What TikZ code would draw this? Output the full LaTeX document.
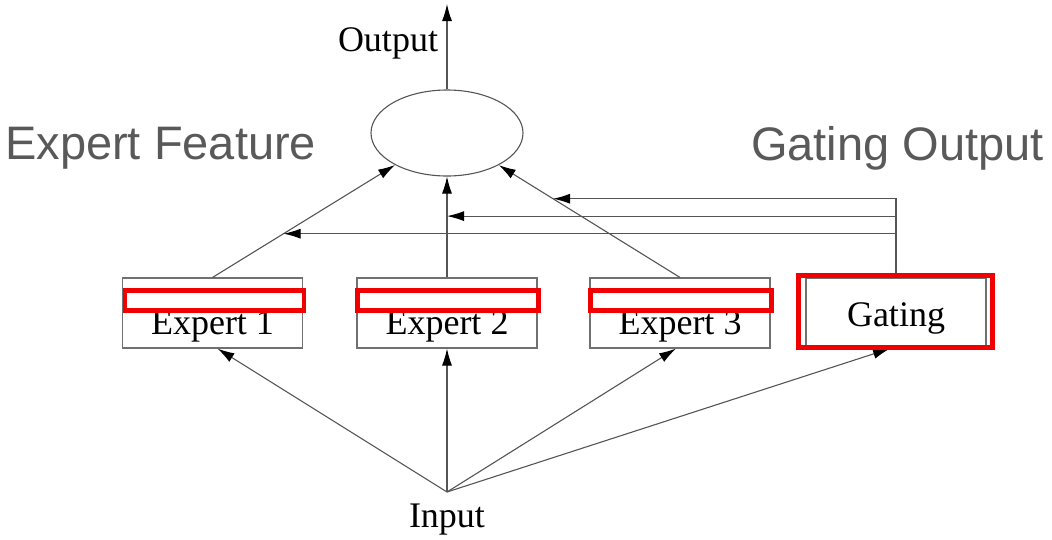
\documentclass[tikz,border=0pt]{standalone}
\usepackage{fontspec}
\setmainfont{Liberation Serif}
\newfontfamily\labelsans{Liberation Sans}
\usetikzlibrary{arrows.meta,calc,shapes.geometric}
\definecolor{wire}{HTML}{555555}
\definecolor{frame}{HTML}{707070}
\definecolor{tag}{HTML}{595959}
\definecolor{mark}{HTML}{F00000}
\tikzset{
  wire/.style={draw=wire,line width=1.1pt},
  arr/.style={wire,-{Latex[length=17pt,width=10pt,color=black]}},
  unit/.style={draw=frame,line width=1.1pt,minimum width=180pt,minimum height=70pt,
    inner sep=0pt,font=\fontsize{36}{40}\selectfont},
  lowtext/.style={text height=42pt,text depth=0pt},
  midtext/.style={text height=27pt,text depth=0pt},
  serif/.style={font=\fontsize{36}{40}\selectfont,inner sep=0pt},
  bigtag/.style={font=\labelsans\fontsize{47}{52}\selectfont,text=tag,inner sep=0pt},
  hl/.style={draw=mark,line width=4.5pt}
}
\begin{document}
\begin{tikzpicture}[x=1pt,y=-1pt]
\useasboundingbox (0,0) rectangle (1052,539);

% combiner and its output
\node[ellipse,draw=wire,line width=1.1pt,minimum width=152pt,minimum height=86pt,inner sep=0pt] (comb) at (447,133) {};
\coordinate (out) at (447,4);
\node[serif] (outlbl) at (388,43) {Output};

% experts and gating network
\node[unit,lowtext] (e1) at (212.5,313) {Expert 1};
\node[unit,lowtext] (e2) at (447,313) {Expert 2};
\node[unit,lowtext] (e3) at (680,313) {Expert 3};
\node[unit,midtext] (gate) at (896,313) {Gating};

% input
\coordinate (in) at (447,492);
\node[serif] (inlbl) at (447,520) {Input};

% side captions
\node[bigtag,anchor=west] (featlbl) at (5,148) {Expert Feature};
\node[bigtag,anchor=east] (gatelbl) at (1044,148) {Gating Output};

% input fan-out
\draw[arr] (in) -- ($(e1.south)+(5,0)$);
\draw[arr] (in) -- (e2.south);
\draw[arr] (in) -- ($(e3.south)+(-4,0)$);
\draw[arr] (in) -- ($(gate.south)+(-6,0)$);

% experts into the combiner
\draw[arr] (e1.north) -- (comb);
\draw[arr] (e2.north) -- (comb.south);
\draw[arr] (e3.north) -- (comb);
\draw[arr] (comb.north) -- (out);

% gating weights onto each expert line
\coordinate (g1) at ($(e1.north)!0.303!(comb.center)$);
\coordinate (g2) at ($(e2.north)!0.608!(comb.south)$);
\coordinate (g3) at ($(e3.north)!0.545!(comb.center)$);
\draw[arr] (gate.north) |- (g1);
\draw[arr] (gate.north) |- (g2);
\draw[arr] (gate.north) |- (g3);

% highlight frames
\draw[hl] ($(e1.north west)+(3,13)$) rectangle ($(e1.north east)+(1,33)$);
\draw[hl] ($(e2.north west)+(1,13)$) rectangle ($(e2.north east)+(1,33)$);
\draw[hl] ($(e3.north west)+(1,13)$) rectangle ($(e3.north east)+(1,33)$);
\draw[hl] ($(gate.north west)+(-7,-2)$) rectangle ($(gate.south east)+(6,-1)$);
\end{tikzpicture}
\end{document}
